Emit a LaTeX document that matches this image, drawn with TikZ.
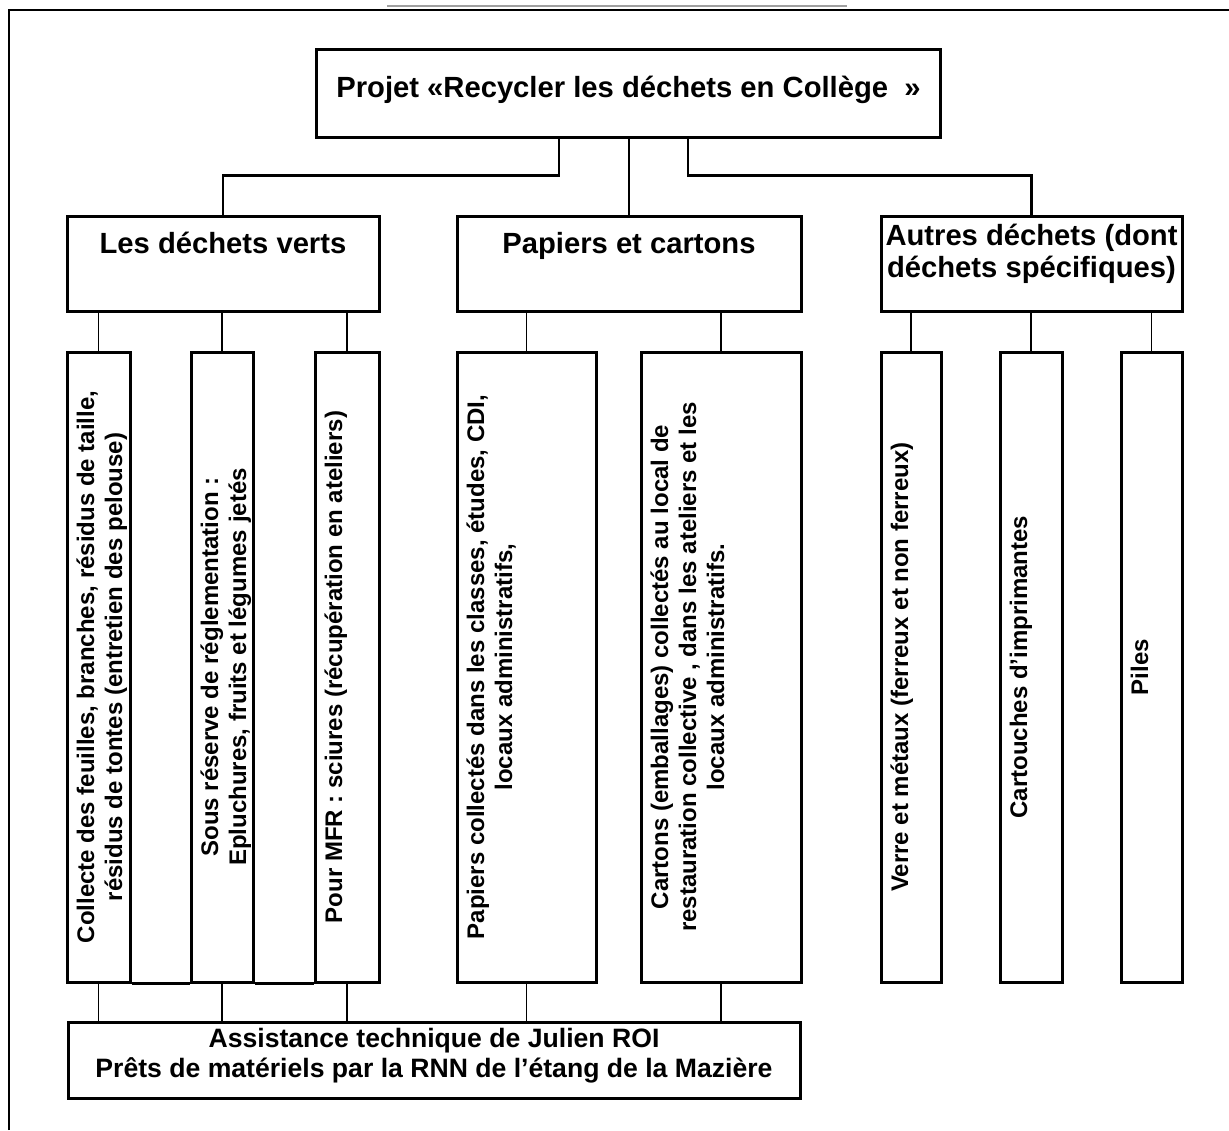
\documentclass[tikz,border=0pt]{standalone}
\usepackage{fontspec}
\setmainfont{Liberation Sans}
\begin{document}
\begin{tikzpicture}[x=0.5pt,y=-0.5pt,
  box/.style={draw,line width=1.5pt,inner sep=0pt,rectangle},
  htext/.style={font=\fontsize{14.6}{16.8}\selectfont\bfseries,inner sep=0pt,anchor=base},
  atext/.style={font=\fontsize{13.3}{15.3}\selectfont\bfseries,inner sep=0pt,anchor=base},
  vtext/.style={font=\fontsize{12}{14}\selectfont\bfseries,inner sep=0pt,anchor=base,rotate=90},
  link/.style={line width=1.2pt},
  thinlink/.style={line width=0.8pt},
  edgeline/.style={line width=1.5pt}]
\useasboundingbox (0,0) rectangle (1229,1130);
\newcommand\mybox[5]{\node[box,minimum width={#4*0.5pt},minimum height={#5*0.5pt}] (#1) at (#2,#3) {};}

% frame and top rule
\coordinate (fa) at (9,1130);
\coordinate (fb) at (9,10);
\coordinate (fc) at (1229,10);
\draw[line width=1.1pt] (fa) -- (fb) -- (fc);
\coordinate (ga) at (387,6);
\coordinate (gb) at (847,6);
\draw[gray!75,line width=0.8pt] (ga) -- (gb);

% boxes
\mybox{top}{628.5}{93}{624}{88}
\mybox{vert}{223}{263.5}{312}{95}
\mybox{pap}{629}{263.5}{344}{95}
\mybox{aut}{1031.5}{263.5}{301}{95}
\mybox{g1}{98.5}{667}{63}{630}
\mybox{g2}{222}{667}{62}{630}
\mybox{g3}{347}{667}{64}{630}
\mybox{p1}{526.5}{667}{139}{630}
\mybox{p2}{721}{667}{160}{630}
\mybox{a1}{911}{667}{60}{630}
\mybox{a2}{1031}{667}{62}{630}
\mybox{a3}{1151.5}{667}{61}{630}
\mybox{asst}{434}{1060}{732}{76}

% heading texts
\node[htext] (ttop) at (628.5,97) {Projet «Recycler les déchets en Collège\ \ »};
\node[htext] (tvert) at (223,253) {Les déchets verts};
\node[htext] (tpap) at (629,253) {Papiers et cartons};
\node[htext] (taut1) at (1031.5,245) {Autres déchets (dont};
\node[htext] (taut2) at (1031.5,277) {déchets spécifiques)};

% vertical texts
\node[vtext] (tg1a) at (94,667) {Collecte des feuilles, branches, résidus de taille,};
\node[vtext] (tg1b) at (122,667) {résidus de tontes (entretien des pelouse)};
\node[vtext] (tg2a) at (218,667) {Sous réserve de réglementation :};
\node[vtext] (tg2b) at (246,667) {Epluchures, fruits et légumes jetés};
\node[vtext] (tg3) at (342,667) {Pour MFR : sciures (récupération en ateliers)};
\node[vtext] (tp1a) at (484,667) {Papiers collectés dans les classes, études,\ CDI,};
\node[vtext] (tp1b) at (512,667) {locaux administratifs,};
\node[vtext] (tp2a) at (668,667) {Cartons (emballages) collectés au local de};
\node[vtext] (tp2b) at (696,667) {restauration collective , dans les ateliers et les};
\node[vtext] (tp2c) at (724,667) {locaux administratifs.};
\node[vtext] (ta1) at (908,667) {Verre et métaux (ferreux et non ferreux)};
\node[vtext] (ta2) at (1027,667) {Cartouches d’imprimantes};
\node[vtext] (ta3) at (1148,667) {Piles};

% assistance text
\node[atext] (tas1) at (434,1047) {Assistance technique de Julien ROI};
\node[atext] (tas2) at (434,1077) {Prêts de matériels par la RNN de l’étang de la Mazière};

% connectors top level
\draw[link] ([xshift=-34.75pt]top.south) |- ([yshift=19.5pt]vert.north) -- (vert.north);
\draw[link] (top.south -| pap.north) -- (pap.north);
\draw[link] ([xshift=29.75pt]top.south) |- ([yshift=19.5pt]aut.north) -- (aut.north);

% connectors to leaves
\foreach \l in {g1,g2,g3} \draw[thinlink] (vert.south -| \l.north) -- (\l.north);
\foreach \l in {p1,p2} \draw[thinlink] (pap.south -| \l.north) -- (\l.north);
\foreach \l in {a1,a2,a3} \draw[thinlink] (aut.south -| \l.north) -- (\l.north);

% bottom joins
\draw[edgeline] (g1.south east) -- (g2.south west);
\draw[edgeline] (g2.south east) -- (g3.south west);
\foreach \l in {g1,g2,g3,p1,p2} \draw[thinlink] (\l.south) -- (\l.south |- asst.north);
\end{tikzpicture}
\end{document}
